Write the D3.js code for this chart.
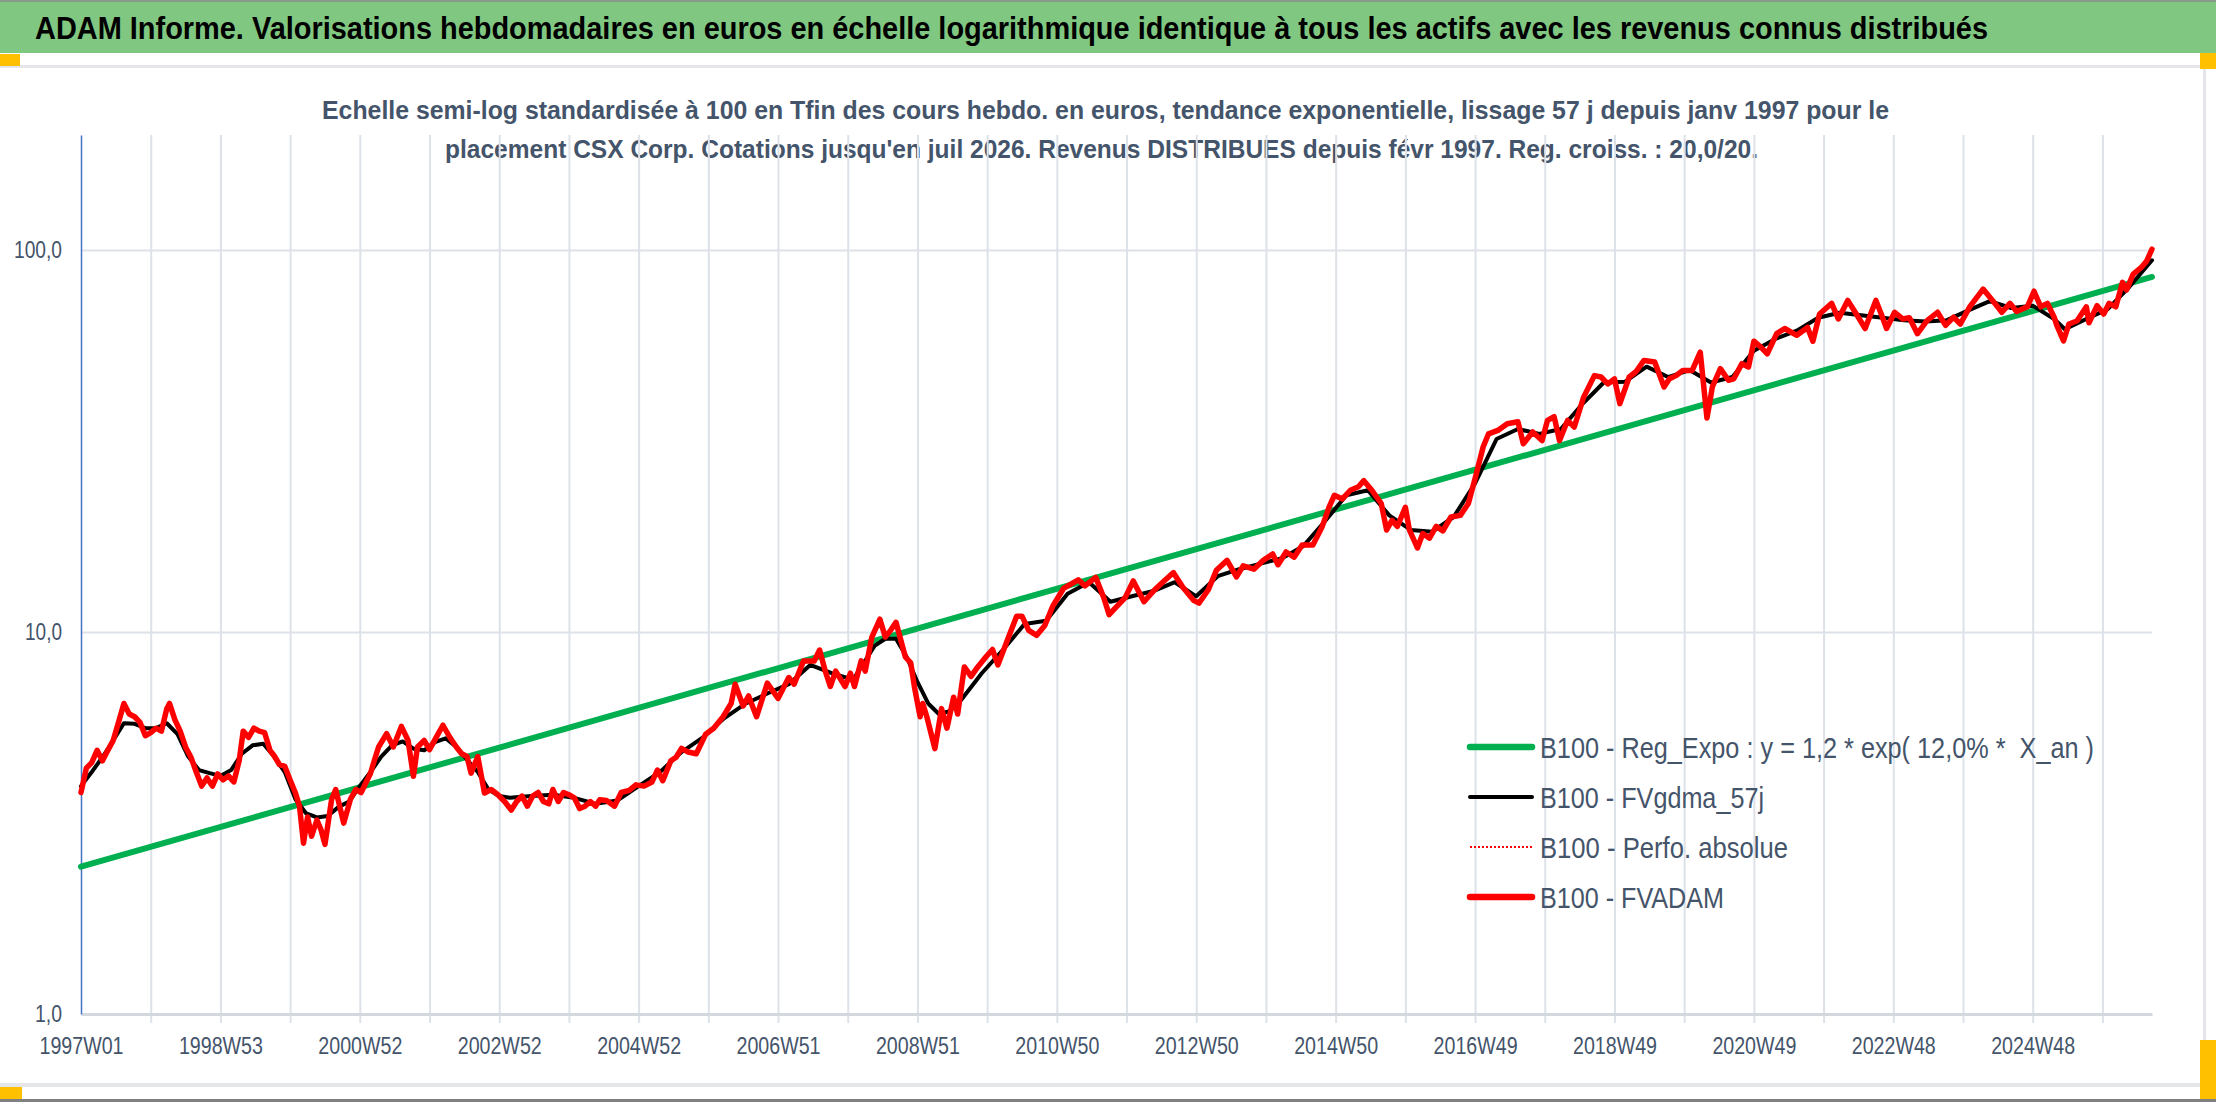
<!DOCTYPE html>
<html>
<head>
<meta charset="utf-8">
<script src="https://cdn.jsdelivr.net/npm/d3@7"></script>
<style>
  body { margin: 0; background: #fff; }
  svg { display: block; }
  text { white-space: pre; }
</style>
</head>
<body>
<div id="chart"></div>
<script>
// Weekly data, 1997W01 .. juil 2026 (week index 0..1545)
const lastWeek = 1545;
const xLabels = ["1997W01", "1998W53", "2000W52", "2002W52", "2004W52", "2006W51", "2008W51",
  "2010W50", "2012W50", "2014W50", "2016W49", "2018W49", "2020W49", "2022W48", "2024W48"];
const yTicks = [1, 10, 100];
const yLabels = ["1,0", "10,0", "100,0"];

// [week index, value] pairs
const regExpo = [[0, 2.43], [1545, 85]];

const fvadam = [[0,3.8],[4,4.4],[8,4.55],[12,4.9],[16,4.6],[20,4.9],[24,5.2],[28,5.8],[32,6.5],[36,6.1],[40,6.0],[44,5.8],[48,5.35],[52,5.45],[56,5.6],[60,5.5],[64,6.3],[66,6.5],[70,5.9],[74,5.5],[78,5.0],[82,4.7],[86,4.3],[90,3.95],[94,4.15],[98,3.95],[102,4.25],[106,4.1],[110,4.2],[114,4.05],[118,4.6],[121,5.5],[125,5.3],[129,5.6],[133,5.5],[137,5.45],[141,4.9],[144,4.75],[148,4.5],[152,4.45],[156,4.1],[160,3.79],[163,3.5],[166,2.8],[169,3.28],[172,2.92],[176,3.22],[179,3.04],[182,2.78],[187,3.65],[190,3.87],[196,3.16],[201,3.65],[205,3.87],[209,3.8],[216,4.27],[219,4.63],[222,5.0],[228,5.42],[233,5.0],[239,5.66],[244,5.2],[248,4.19],[251,5.0],[256,5.2],[260,4.92],[265,5.3],[270,5.7],[275,5.31],[280,5.0],[284,4.8],[288,4.72],[291,4.27],[296,4.72],[301,3.79],[306,3.87],[311,3.75],[316,3.6],[321,3.42],[325,3.6],[329,3.72],[333,3.5],[337,3.72],[341,3.8],[345,3.6],[349,3.55],[352,3.87],[356,3.6],[360,3.8],[364,3.75],[368,3.68],[372,3.45],[376,3.5],[380,3.6],[384,3.5],[387,3.64],[392,3.62],[398,3.5],[403,3.8],[409,3.85],[414,3.98],[420,3.95],[426,4.05],[430,4.35],[434,4.08],[440,4.6],[444,4.7],[448,4.96],[453,4.85],[459,4.8],[466,5.4],[472,5.6],[479,6.0],[485,6.5],[488,7.3],[494,6.4],[498,6.8],[504,6.0],[512,7.35],[520,6.7],[528,7.6],[532,7.3],[539,8.4],[547,8.4],[551,8.97],[555,7.95],[559,7.2],[563,7.9],[570,7.2],[574,7.8],[577,7.2],[582,8.4],[585,7.9],[590,9.7],[596,10.8],[600,9.7],[604,10.1],[608,10.6],[615,8.6],[619,8.3],[622,7.1],[626,6.0],[628,6.5],[631,6.0],[637,4.95],[642,6.3],[646,5.6],[651,6.75],[654,6.1],[659,8.1],[664,7.65],[669,8.1],[675,8.6],[680,9.0],[684,8.2],[691,9.5],[698,11.0],[702,11.0],[707,10.1],[713,9.8],[719,10.4],[725,11.7],[733,13.0],[744,13.7],[749,13.2],[757,13.9],[763,12.3],[767,11.1],[771,11.5],[779,12.3],[785,13.6],[793,12.0],[801,12.9],[809,13.7],[815,14.3],[822,13.1],[830,12.1],[834,11.9],[841,12.9],[847,14.5],[855,15.4],[862,13.95],[867,14.9],[875,14.6],[882,15.4],[889,16.0],[893,15.0],[899,16.2],[905,15.7],[911,16.9],[919,16.9],[926,18.9],[931,21.2],[935,22.8],[941,22.3],[947,23.5],[953,24.0],[957,24.9],[963,23.5],[970,21.7],[974,18.5],[978,19.6],[982,18.9],[988,21.2],[991,18.5],[997,16.6],[1001,18.1],[1006,17.6],[1011,18.9],[1016,18.4],[1022,20.0],[1029,20.2],[1035,21.7],[1041,26.0],[1046,30.5],[1050,33.0],[1057,33.7],[1064,35.1],[1072,35.5],[1076,31.1],[1083,33.4],[1090,31.7],[1094,35.8],[1099,36.6],[1103,31.7],[1109,35.8],[1114,34.4],[1121,41.2],[1129,46.9],[1134,46.5],[1139,44.6],[1144,46.0],[1148,39.6],[1155,46.5],[1160,48.0],[1166,51.4],[1174,50.9],[1181,43.8],[1185,46.0],[1190,46.9],[1195,48.4],[1202,48.4],[1208,54.0],[1213,36.3],[1217,43.8],[1223,48.9],[1229,45.6],[1233,46.0],[1239,50.4],[1244,49.4],[1248,57.7],[1253,55.8],[1258,53.5],[1265,60.4],[1271,62.3],[1280,59.8],[1288,62.7],[1292,57.7],[1297,68.0],[1306,72.5],[1311,66.0],[1318,73.8],[1325,67.5],[1331,62.3],[1339,73.8],[1343,68.0],[1347,62.3],[1353,68.7],[1359,66.0],[1364,66.5],[1370,60.4],[1377,65.2],[1385,68.7],[1391,63.5],[1397,66.7],[1402,64.0],[1409,71.0],[1419,79.0],[1426,73.8],[1433,68.7],[1439,72.5],[1444,69.0],[1452,71.0],[1457,78.0],[1462,71.0],[1467,72.5],[1472,66.7],[1474,63.5],[1479,57.8],[1483,64.0],[1489,65.2],[1496,71.0],[1498,64.5],[1504,71.5],[1509,68.0],[1513,72.5],[1518,71.0],[1523,82.3],[1526,78.6],[1531,86.5],[1537,90.0],[1541,93.5],[1545,100.5]];

const fvgdma = [[0,3.95],[8,4.3],[16,4.7],[24,5.2],[32,5.77],[40,5.75],[48,5.6],[56,5.6],[64,5.77],[72,5.4],[80,4.72],[88,4.35],[96,4.27],[104,4.2],[112,4.35],[120,4.8],[128,5.05],[136,5.1],[144,4.72],[152,4.3],[160,3.65],[168,3.35],[176,3.27],[184,3.3],[192,3.48],[200,3.6],[208,3.95],[216,4.3],[224,4.72],[232,5.05],[240,5.17],[248,4.95],[256,4.9],[264,5.15],[272,5.27],[280,5.0],[288,4.63],[296,4.3],[304,3.87],[312,3.72],[320,3.68],[336,3.72],[352,3.75],[368,3.68],[384,3.55],[400,3.62],[416,3.95],[432,4.3],[448,4.85],[464,5.3],[480,5.95],[496,6.5],[512,6.9],[528,7.3],[544,8.2],[560,7.8],[576,7.5],[592,9.2],[600,9.6],[608,9.6],[616,8.6],[624,7.4],[632,6.5],[640,6.1],[648,6.2],[656,6.6],[672,7.8],[688,9.0],[704,10.5],[720,10.7],[736,12.6],[752,13.5],[768,12.0],[784,12.4],[800,12.8],[816,13.5],[832,12.4],[848,14.0],[864,14.6],[880,15.1],[896,15.6],[912,16.8],[928,19.5],[944,22.8],[960,23.5],[976,20.2],[992,18.5],[1008,18.3],[1024,20.0],[1040,24.5],[1056,32.0],[1072,34.0],[1088,33.0],[1104,34.0],[1120,39.5],[1136,45.0],[1152,45.2],[1168,49.5],[1184,46.5],[1200,48.5],[1216,45.0],[1232,46.5],[1248,54.5],[1264,58.5],[1280,61.5],[1296,66.5],[1312,68.5],[1328,67.5],[1344,66.5],[1360,65.5],[1376,65.0],[1392,65.5],[1408,69.5],[1424,73.5],[1440,70.5],[1456,71.5],[1472,66.0],[1480,62.0],[1496,66.0],[1512,70.0],[1528,80.0],[1545,94.0]];

const legendLabels = [
  "B100 - Reg_Expo : y = 1,2 * exp( 12,0% *  X_an )",
  "B100 - FVgdma_57j",
  "B100 - Perfo. absolue",
  "B100 - FVADAM"
];

const title = "ADAM Informe. Valorisations hebdomadaires en euros en échelle logarithmique identique à tous les actifs avec les revenus connus distribués";
const subtitle = [
  "Echelle semi-log standardisée à 100 en Tfin des cours hebdo. en euros, tendance exponentielle, lissage 57 j depuis janv 1997 pour le",
  "placement CSX Corp. Cotations jusqu'en juil 2026. Revenus DISTRIBUES depuis févr 1997. Reg. croiss. : 20,0/20."
];

const W = 2216, H = 1102;
const FONT = '"Liberation Sans Narrow", "Liberation Sans", "Open Sans", sans-serif';
const TXT = "#44546a";
const GRID = "#dde1e8";
const margin = {top: 135, right: 64, bottom: 88, left: 81};
const plotBottom = H - margin.bottom;  // y of 1,0

const svg = d3.select("#chart").append("svg")
  .attr("width", W)
  .attr("height", H);

// frame / banner
svg.append("rect").attr("x", 0).attr("y", 0).attr("width", W).attr("height", H).attr("fill", "#fff");
svg.append("rect").attr("x", 0).attr("y", 0).attr("width", W).attr("height", 53).attr("fill", "#80c882");
svg.append("rect").attr("x", 0).attr("y", 0).attr("width", W).attr("height", 2).attr("fill", "#8a9a8a");
svg.append("rect").attr("x", 0).attr("y", 65).attr("width", 2204).attr("height", 3).attr("fill", "#e4e6ea");
svg.append("rect").attr("x", 0).attr("y", 1083).attr("width", 2204).attr("height", 4).attr("fill", "#e4e6ea");
svg.append("rect").attr("x", 2203).attr("y", 66).attr("width", 3).attr("height", 1020).attr("fill", "#e4e6ea");
svg.append("rect").attr("x", 0).attr("y", 1099).attr("width", W).attr("height", 3).attr("fill", "#808080");
// selection handles
svg.append("rect").attr("x", 0).attr("y", 54).attr("width", 20).attr("height", 12).attr("fill", "#ffc000");
svg.append("rect").attr("x", 2200).attr("y", 53).attr("width", 16).attr("height", 16).attr("fill", "#ffc000");
svg.append("rect").attr("x", 2200).attr("y", 1040).attr("width", 16).attr("height", 59).attr("fill", "#ffc000");
svg.append("rect").attr("x", 0).attr("y", 1087).attr("width", 22).attr("height", 12).attr("fill", "#ffc000");

svg.append("text")
  .attr("x", 35).attr("y", 39)
  .attr("font-family", FONT).attr("font-size", 32).attr("font-weight", "bold")
  .attr("fill", "#000")
  .attr("textLength", 1953).attr("lengthAdjust", "spacingAndGlyphs")
  .text(title);

svg.append("text")
  .attr("x", 322).attr("y", 119)
  .attr("font-family", FONT).attr("font-size", 26).attr("font-weight", "bold")
  .attr("fill", TXT)
  .attr("textLength", 1567).attr("lengthAdjust", "spacingAndGlyphs")
  .text(subtitle[0]);
svg.append("text")
  .attr("x", 445).attr("y", 158)
  .attr("font-family", FONT).attr("font-size", 26).attr("font-weight", "bold")
  .attr("fill", TXT)
  .attr("textLength", 1313).attr("lengthAdjust", "spacingAndGlyphs")
  .text(subtitle[1]);

// scales
const x = d3.scaleLinear().domain([0, lastWeek]).range([margin.left, W - margin.right]);
const y = d3.scaleLog().domain([1, 200]).range([plotBottom, margin.top]);

const gridWeeks = d3.range(52, lastWeek + 1, 52);
const labelWeeks = xLabels.map((d, k) => k * 104);

// vertical gridlines, with the small tick marks below the axis
svg.append("g")
  .attr("transform", `translate(0,${plotBottom + 9})`)
  .call(d3.axisBottom(x).tickValues(gridWeeks).tickSize(-(plotBottom + 9 - margin.top)).tickFormat(""))
  .call(g => g.select(".domain").remove())
  .selectAll("line").attr("stroke", GRID).attr("stroke-width", 2);

// horizontal gridlines
svg.append("g")
  .attr("transform", `translate(${margin.left},0)`)
  .call(d3.axisLeft(y).tickValues([10, 100]).tickSize(-(W - margin.right - margin.left)).tickFormat(""))
  .call(g => g.select(".domain").remove())
  .selectAll("line").attr("stroke", GRID).attr("stroke-width", 2);

// x axis line
svg.append("g")
  .attr("transform", `translate(0,${plotBottom})`)
  .call(d3.axisBottom(x).tickValues([]).tickSizeOuter(0))
  .select(".domain").attr("stroke", "#d3d7de").attr("stroke-width", 3);

// x labels
const xl = svg.append("g")
  .attr("transform", `translate(0,${plotBottom})`)
  .call(d3.axisBottom(x).tickValues(labelWeeks).tickFormat((d, k) => xLabels[k]).tickSize(0).tickPadding(24));
xl.select(".domain").remove();
xl.selectAll("text")
  .attr("font-family", FONT).attr("font-size", 23).attr("fill", TXT)
  .attr("textLength", 84).attr("lengthAdjust", "spacingAndGlyphs");

// y labels
const yLabelWidths = [27, 37, 48];
const yl = svg.append("g")
  .attr("transform", `translate(${margin.left},0)`)
  .call(d3.axisLeft(y).tickValues(yTicks).tickFormat((d, k) => yLabels[k]).tickSize(0).tickPadding(19));
yl.select(".domain").remove();
yl.selectAll("text")
  .attr("font-family", FONT).attr("font-size", 23).attr("fill", TXT)
  .attr("textLength", (d, k) => yLabelWidths[k]).attr("lengthAdjust", "spacingAndGlyphs");

// blue y axis line
svg.append("g")
  .attr("transform", `translate(${margin.left},0)`)
  .call(d3.axisLeft(y).tickValues([]).tickSizeOuter(0))
  .select(".domain").attr("stroke", "#4472c4").attr("stroke-width", 1.5);

// series
const line = d3.line()
  .x(d => x(d[0]))
  .y(d => y(d[1]));

const series = [
  {data: regExpo, color: "#00b050", width: 6, legendWidth: 6.5, dash: null},
  {data: fvgdma, color: "#000000", width: 4, legendWidth: 4, dash: null},
  {data: fvadam, color: "#ff0000", width: 2, legendWidth: 2, dash: "2 2"},
  {data: fvadam, color: "#ff0000", width: 5.5, legendWidth: 6.5, dash: null}
];

svg.selectAll("path.serie")
  .data(series)
  .enter()
  .append("path")
  .attr("class", "serie")
  .attr("d", d => line(d.data))
  .attr("fill", "none")
  .attr("stroke", d => d.color)
  .attr("stroke-width", d => d.width)
  .attr("stroke-dasharray", d => d.dash)
  .attr("stroke-linejoin", "round")
  .attr("stroke-linecap", "round");

// legend
const legend = svg.append("g").attr("transform", "translate(1470,747)");
const legendWidths = [554, 224, 248, 184];
series.forEach((s, k) => {
  legend.append("line")
    .attr("x1", 0).attr("x2", 62)
    .attr("y1", k * 50).attr("y2", k * 50)
    .attr("stroke", s.color)
    .attr("stroke-width", s.legendWidth)
    .attr("stroke-dasharray", s.dash)
    .attr("stroke-linecap", s.dash ? "butt" : "round");
  legend.append("text")
    .attr("x", 70).attr("y", k * 50 + 11)
    .attr("font-family", FONT).attr("font-size", 29).attr("fill", TXT)
    .attr("textLength", legendWidths[k]).attr("lengthAdjust", "spacingAndGlyphs")
    .text(legendLabels[k]);
});
</script>
</body>
</html>
